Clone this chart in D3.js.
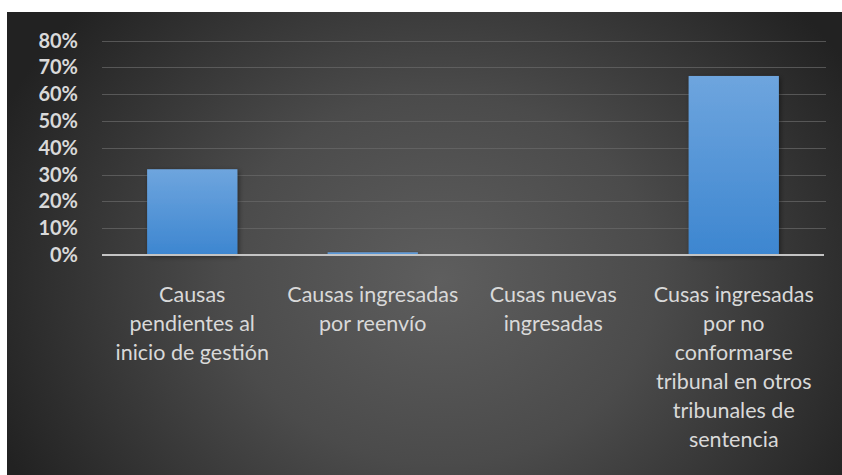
<!DOCTYPE html>
<html>
<head>
<meta charset="utf-8">
<script src="https://cdn.jsdelivr.net/npm/d3@7"></script>
<style>
  html, body { margin: 0; padding: 0; background: #ffffff; }
  svg { display: block; }
</style>
</head>
<body>
<svg id="chart" width="842" height="475"></svg>
<script>
// ---- data ----
const categories = [
  "Causas pendientes al inicio de gestión",
  "Causas ingresadas por reenvío",
  "Cusas nuevas ingresadas",
  "Cusas ingresadas por no conformarse tribunal en otros tribunales de sentencia"
];
const categoryLines = [
  ["Causas", "pendientes al", "inicio de gestión"],
  ["Causas ingresadas", "por reenvío"],
  ["Cusas nuevas", "ingresadas"],
  ["Cusas ingresadas", "por no", "conformarse", "tribunal en otros", "tribunales de", "sentencia"]
];
const values = [0.32, 0.01, 0.0, 0.668];
const yTicks = [0, 0.1, 0.2, 0.3, 0.4, 0.5, 0.6, 0.7, 0.8];

// ---- layout ----
const W = 842, H = 475;
const plot = { left: 102, right: 824, top: 40.6, bottom: 255 };

const svg = d3.select("#chart");
const defs = svg.append("defs");

const bg = defs.append("radialGradient")
  .attr("id", "bg").attr("gradientUnits", "userSpaceOnUse")
  .attr("cx", 440).attr("cy", 280).attr("r", 480)
  .attr("gradientTransform", "translate(440,280) scale(1,0.85) translate(-440,-280)");
bg.append("stop").attr("offset", "0%").attr("stop-color", "#5e5e5e");
bg.append("stop").attr("offset", "45%").attr("stop-color", "#4b4b4b");
bg.append("stop").attr("offset", "100%").attr("stop-color", "#222222");

const barGrad = defs.append("linearGradient")
  .attr("id", "barGrad").attr("x1", 0).attr("y1", 0).attr("x2", 0).attr("y2", 1);
barGrad.append("stop").attr("offset", "0%").attr("stop-color", "#6ea5de");
barGrad.append("stop").attr("offset", "100%").attr("stop-color", "#3d86d0");

const shadow = defs.append("filter").attr("id", "shadow")
  .attr("x", "-20%").attr("y", "-20%").attr("width", "140%").attr("height", "140%");
shadow.append("feDropShadow").attr("dx", 1.5).attr("dy", 1.5)
  .attr("stdDeviation", 2.5).attr("flood-color", "#000").attr("flood-opacity", 0.45);

// background
svg.append("rect").attr("x", 7).attr("y", 12).attr("width", W - 7).attr("height", H - 12)
  .attr("fill", "url(#bg)");

// scales
const x = d3.scaleBand().domain(categories)
  .range([plot.left, plot.right]).paddingInner(0.5).paddingOuter(0.25);
const y = d3.scaleLinear().domain([0, 0.8]).range([plot.bottom, plot.top]);

// gridlines
svg.append("g").selectAll("line").data(yTicks.filter(d => d > 0)).join("line")
  .attr("x1", plot.left).attr("x2", plot.right + 2)
  .attr("y1", d => Math.round(y(d)) + 0.5).attr("y2", d => Math.round(y(d)) + 0.5)
  .attr("stroke", "#6a6a6a").attr("stroke-opacity", 0.7).attr("stroke-width", 1);

// y axis labels
const yAxis = svg.append("g")
  .attr("transform", `translate(${plot.left},0)`)
  .call(d3.axisLeft(y).tickValues(yTicks).tickFormat(d3.format(".0%")).tickSize(0).tickPadding(24));
yAxis.select(".domain").remove();
yAxis.selectAll("text")
  .attr("fill", "#d9d9d9")
  .style("font-family", "Lato, 'Open Sans', sans-serif")
  .style("font-weight", "700")
  .style("font-size", "20px");

// bars
svg.append("g").selectAll("rect").data(values).join("rect")
  .attr("x", (d, i) => x(categories[i]))
  .attr("width", x.bandwidth())
  .attr("y", d => y(d))
  .attr("height", d => y(0) - y(d))
  .attr("fill", "url(#barGrad)")
  .attr("filter", "url(#shadow)");

// baseline axis
svg.append("line")
  .attr("x1", plot.left).attr("x2", plot.right)
  .attr("y1", y(0)).attr("y2", y(0))
  .attr("stroke", "#c4c4c4").attr("stroke-width", 2);

// x labels
const xl = svg.append("g");
categoryLines.forEach((lines, i) => {
  const cx = x(categories[i]) + x.bandwidth() / 2;
  const t = xl.append("text")
    .attr("x", cx).attr("y", 302)
    .attr("text-anchor", "middle")
    .attr("fill", "#d9d9d9")
    .style("font-family", "Lato, 'Open Sans', sans-serif")
    .style("font-size", "21.5px");
  lines.forEach((ln, j) => {
    t.append("tspan").attr("x", cx).attr("y", 302 + j * 29).text(ln);
  });
});
</script>
</body>
</html>
